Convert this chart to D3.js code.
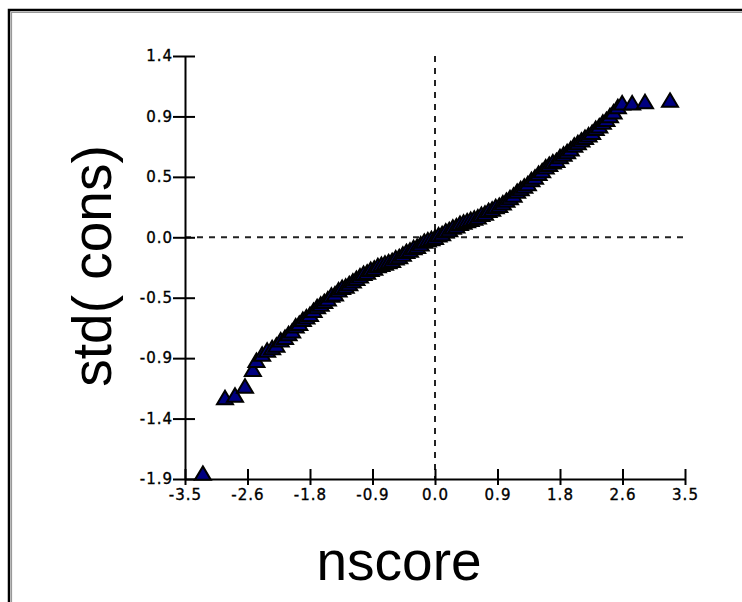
<!DOCTYPE html>
<html>
<head>
<meta charset="utf-8">
<script src="https://cdn.jsdelivr.net/npm/d3@7"></script>
<style>
  html, body { margin: 0; padding: 0; background: #fff; }
  svg { display: block; }
</style>
</head>
<body>
<script>
// ---- data ----
const nscore = [
  -3.25, -2.94, -2.80, -2.66, -2.55, -2.50, -2.42, -2.35, -2.28, -2.22,
  -2.16, -2.10, -2.05, -2.00, -1.95, -1.90, -1.85, -1.80, -1.75, -1.70,
  -1.65, -1.60, -1.55, -1.50, -1.45, -1.40, -1.35, -1.30, -1.25, -1.20,
  -1.15, -1.10, -1.05, -1.00, -0.95, -0.90, -0.85, -0.80, -0.75, -0.70,
  -0.65, -0.60, -0.55, -0.50, -0.45, -0.40, -0.35, -0.30, -0.25, -0.20,
  -0.15, -0.10, -0.05, 0.00, 0.05, 0.10, 0.15, 0.20, 0.25, 0.30,
  0.35, 0.40, 0.45, 0.50, 0.55, 0.60, 0.65, 0.70, 0.75, 0.80,
  0.85, 0.90, 0.95, 1.00, 1.05, 1.10, 1.15, 1.20, 1.25, 1.30,
  1.35, 1.40, 1.45, 1.50, 1.55, 1.60, 1.65, 1.70, 1.75, 1.80,
  1.85, 1.90, 1.95, 2.00, 2.05, 2.10, 2.15, 2.20, 2.25, 2.30,
  2.35, 2.40, 2.45, 2.50, 2.56, 2.62, 2.76, 2.94, 3.29
];
const stdCons = [
  -1.86, -1.27, -1.25, -1.18, -1.05, -0.98, -0.93, -0.90, -0.88, -0.86,
  -0.82, -0.80, -0.77, -0.75, -0.71, -0.69, -0.66, -0.64, -0.62, -0.59,
  -0.56, -0.54, -0.52, -0.50, -0.47, -0.46, -0.43, -0.41, -0.40, -0.38,
  -0.36, -0.34, -0.32, -0.30, -0.29, -0.27, -0.26, -0.24, -0.23, -0.22,
  -0.21, -0.20, -0.18, -0.17, -0.15, -0.13, -0.12, -0.10, -0.09, -0.07,
  -0.05, -0.04, -0.03, -0.02, 0.00, 0.01, 0.03, 0.04, 0.06, 0.07,
  0.09, 0.10, 0.11, 0.12, 0.13, 0.14, 0.16, 0.17, 0.19, 0.20,
  0.22, 0.23, 0.25, 0.27, 0.29, 0.31, 0.34, 0.36, 0.38, 0.40,
  0.43, 0.45, 0.48, 0.50, 0.53, 0.55, 0.57, 0.58, 0.61, 0.63,
  0.65, 0.67, 0.70, 0.72, 0.74, 0.76, 0.78, 0.80, 0.83, 0.85,
  0.88, 0.90, 0.93, 0.96, 1.00, 1.03, 1.03, 1.04, 1.05
];
const xTickLabels = ["-3.5", "-2.6", "-1.8", "-0.9", "0.0", "0.9", "1.8", "2.6", "3.5"];
const yTickLabels = ["-1.9", "-1.4", "-0.9", "-0.5", "0.0", "0.5", "0.9", "1.4"];
const xDomain = [-3.5, 3.5];
const yDomain = [-1.9, 1.4];
const xTitle = "nscore";
const yTitle = "std( cons)";

// ---- drawing ----
const W = 742, H = 602;
const svg = d3.select("body").append("svg").attr("width", W).attr("height", H);

// frame
svg.append("path").attr("d", `M9,${H} V10 H${W}`).attr("fill", "none")
  .attr("stroke", "#000").attr("stroke-width", 2.5);
svg.append("path").attr("d", `M11.5,${H} V12.5 H${W}`).attr("fill", "none")
  .attr("stroke", "#999").attr("stroke-width", 1.2);

const x = d3.scaleLinear().domain(xDomain).range([185, 685]);
const y = d3.scaleLinear().domain(yDomain).range([479, 56]);

const xTicks = xTickLabels.map((_, i) => xDomain[0] + i * (xDomain[1] - xDomain[0]) / (xTickLabels.length - 1));
const yTicks = yTickLabels.map((_, i) => yDomain[0] + i * (yDomain[1] - yDomain[0]) / (yTickLabels.length - 1));

// dashed reference lines
const zeroY = y(yTicks[yTickLabels.indexOf("0.0")]);
svg.append("line").attr("x1", x(xDomain[0])).attr("x2", x(xDomain[1]))
  .attr("y1", zeroY).attr("y2", zeroY)
  .attr("stroke", "#222").attr("stroke-width", 2).attr("stroke-dasharray", "6,6");
svg.append("line").attr("x1", x(0)).attr("x2", x(0))
  .attr("y1", y(yDomain[1])).attr("y2", y(yDomain[0]))
  .attr("stroke", "#222").attr("stroke-width", 2).attr("stroke-dasharray", "6,6");

function styleLabels(g) {
  g.selectAll(".tick text")
    .attr("font-family", "'DejaVu Sans', sans-serif")
    .attr("font-size", "15px")
    .attr("fill", "#000").attr("letter-spacing", "1px")
    .attr("stroke", "#000").attr("stroke-width", 0.35);
}

// axes
const yAxis = d3.axisLeft(y).tickValues(yTicks).tickFormat((d, i) => yTickLabels[i])
  .tickSizeInner(12).tickSizeOuter(0).tickPadding(0);
const gy = svg.append("g").attr("transform", "translate(185,0)").call(yAxis);
gy.select(".domain").attr("stroke", "#000").attr("stroke-width", 2);
gy.selectAll(".tick line").attr("stroke", "#000").attr("stroke-width", 2).attr("x2", -12).attr("x1", 10);
styleLabels(gy);

const xAxis = d3.axisBottom(x).tickValues(xTicks).tickFormat((d, i) => xTickLabels[i])
  .tickSizeInner(6).tickSizeOuter(0).tickPadding(4);
const gx = svg.append("g").attr("transform", "translate(0,479)").call(xAxis);
gx.select(".domain").attr("stroke", "#000").attr("stroke-width", 2);
gx.selectAll(".tick line").attr("stroke", "#000").attr("stroke-width", 2).attr("y1", -10).attr("y2", 6);
styleLabels(gx);

// points
const pts = nscore.map((v, i) => ({ nx: v, sy: stdCons[i] }));
const tri = "M0,-7.5 L8,6 L-8,6 Z";
svg.append("g").selectAll("path").data(pts).join("path")
  .attr("d", tri)
  .attr("transform", d => `translate(${x(d.nx)},${y(d.sy)})`)
  .attr("fill", "#000080").attr("stroke", "#000").attr("stroke-width", 2);

// titles
svg.append("text")
  .attr("font-family", "'Liberation Sans', Arial, sans-serif")
  .attr("transform", "translate(92,266) rotate(-90)")
  .attr("text-anchor", "middle").attr("dy", "0.35em")
  .attr("font-size", 55).attr("fill", "#000").text(yTitle);
svg.append("text")
  .attr("font-family", "'Liberation Sans', Arial, sans-serif")
  .attr("x", 399).attr("y", 580)
  .attr("text-anchor", "middle")
  .attr("font-size", 55).attr("fill", "#000").text(xTitle);
</script>
</body>
</html>
